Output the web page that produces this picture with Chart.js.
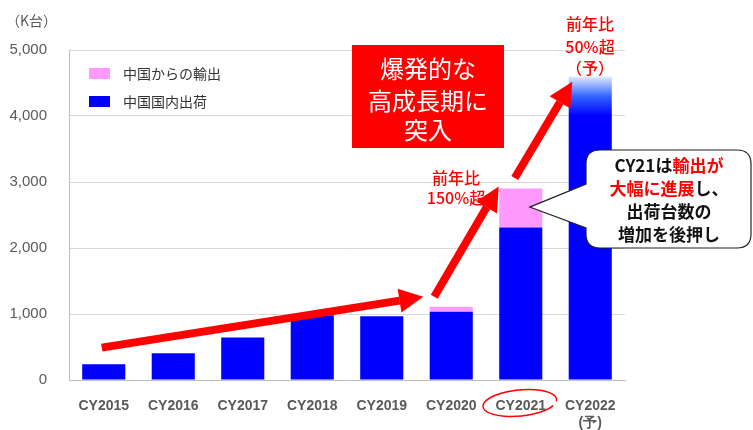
<!DOCTYPE html>
<html>
<head>
<meta charset="utf-8">
<script src="https://cdn.jsdelivr.net/npm/chart.js@4.4.1/dist/chart.umd.min.js"></script>
<style>
  html, body { margin: 0; padding: 0; background: #fff; }
  canvas { display: block; }
</style>
</head>
<body>
<canvas id="chart" width="753" height="430"></canvas>
<script>
// values (K units)
const categories = ['CY2015', 'CY2016', 'CY2017', 'CY2018', 'CY2019', 'CY2020', 'CY2021', ['CY2022', '(予)']];
const domestic = [240, 405, 645, 980, 965, 1035, 2310, 4600];
const exportsCN = [0, 0, 0, 0, 0, 75, 590, 0];
const yMax = 5000;
const yStep = 1000;

const BLUE = '#0000ff';
const PINK = '#ff99ff';
const RED = '#ff0000';
const JP = '"Noto Sans CJK JP", sans-serif';

function arrow(ctx, x1, y1, x2, y2) {
    const ang = Math.atan2(y2 - y1, x2 - x1);
    const headLen = 24, headW = 12;
    const bx = x2 - Math.cos(ang) * headLen, by = y2 - Math.sin(ang) * headLen;
    ctx.save();
    ctx.strokeStyle = RED;
    ctx.fillStyle = RED;
    ctx.lineWidth = 8;
    ctx.beginPath();
    ctx.moveTo(x1, y1);
    ctx.lineTo(bx, by);
    ctx.stroke();
    ctx.beginPath();
    ctx.moveTo(x2, y2);
    ctx.lineTo(bx + Math.sin(ang) * headW, by - Math.cos(ang) * headW);
    ctx.lineTo(bx - Math.sin(ang) * headW, by + Math.cos(ang) * headW);
    ctx.closePath();
    ctx.fill();
    ctx.restore();
}

function lines(ctx, rows, cx, y0, gap) {
    rows.forEach((row, i) => {
        const w = row.reduce((s, p) => s + ctx.measureText(p[0]).width, 0);
        let x = cx - w / 2;
        row.forEach(p => {
            ctx.fillStyle = p[1];
            ctx.fillText(p[0], x, y0 + i * gap);
            x += ctx.measureText(p[0]).width;
        });
    });
}

const overlay = {
    id: 'overlay',
    afterDraw(chart) {
        const ctx = chart.ctx;
        const xs = chart.scales.x, ys = chart.scales.y;
        ctx.save();
        ctx.textBaseline = 'middle';
        ctx.textAlign = 'left';

        // unit
        ctx.font = '14px ' + JP;
        ctx.fillStyle = '#595959';
        ctx.fillText('（K台）', 6, 21);

        // legend
        ctx.fillStyle = PINK;
        ctx.fillRect(89, 68, 21, 11);
        ctx.fillStyle = BLUE;
        ctx.fillRect(89, 96, 21, 11);
        ctx.fillStyle = '#333';
        ctx.font = '14px ' + JP;
        ctx.fillText('中国からの輸出', 123, 74);
        ctx.fillText('中国国内出荷', 123, 102);

        // arrows
        arrow(ctx, xs.getPixelForValue(0) - 2, ys.getPixelForValue(490), xs.getPixelForValue(5) - 28, ys.getPixelForValue(1260));
        arrow(ctx, xs.getPixelForValue(5) - 17, ys.getPixelForValue(1260), xs.getPixelForValue(6) - 22, ys.getPixelForValue(2930));
        arrow(ctx, xs.getPixelForValue(6) - 6, ys.getPixelForValue(3060), xs.getPixelForValue(7) - 18, ys.getPixelForValue(4520));

        // red box
        ctx.fillStyle = RED;
        ctx.fillRect(352, 45, 152, 103);
        ctx.fillStyle = '#fff';
        ctx.font = '24px ' + JP;
        ctx.textAlign = 'center';
        ctx.fillText('爆発的な', 428, 69);
        ctx.fillText('高成長期に', 428, 101);
        ctx.fillText('突入', 428, 130);

        // growth labels
        ctx.fillStyle = RED;
        ctx.font = '500 16px ' + JP;
        ctx.fillText('前年比', 456, 178);
        ctx.fillText('150%超', 456, 198);
        ctx.fillText('前年比', 590, 24);
        ctx.fillText('50%超', 590, 47);
        ctx.fillText('（予）', 590, 68);

        // callout bubble
        const L = 586, T = 150, R = 751, B = 248, r = 14;
        ctx.beginPath();
        ctx.moveTo(L + r, T);
        ctx.lineTo(R - r, T);
        ctx.quadraticCurveTo(R, T, R, T + r);
        ctx.lineTo(R, B - r);
        ctx.quadraticCurveTo(R, B, R - r, B);
        ctx.lineTo(L + r, B);
        ctx.quadraticCurveTo(L, B, L, B - r);
        ctx.lineTo(L, 228);
        ctx.lineTo(xs.getPixelForValue(6) + 9, ys.getPixelForValue(2620));
        ctx.lineTo(L, 184);
        ctx.lineTo(L, T + r);
        ctx.quadraticCurveTo(L, T, L + r, T);
        ctx.closePath();
        ctx.fillStyle = '#fff';
        ctx.fill();
        ctx.strokeStyle = '#222';
        ctx.lineWidth = 1.2;
        ctx.stroke();

        ctx.textAlign = 'left';
        ctx.font = 'bold 17px ' + JP;
        lines(ctx, [
            [['CY21は', '#111'], ['輸出が', RED]],
            [['大幅に進展', RED], ['し、', '#111']],
            [['出荷台数の', '#111']],
            [['増加を後押し', '#111']]
        ], 669, 166, 23);

        // circle round CY2021
        ctx.strokeStyle = RED;
        ctx.lineWidth = 1.5;
        ctx.beginPath();
        ctx.ellipse(xs.getPixelForValue(6) - 1, 403, 37, 13, -0.1, 0.15 * Math.PI, 2.05 * Math.PI);
        ctx.stroke();
        ctx.restore();
    }
};

function barColor(c) {
    if (c.dataIndex !== 7) return BLUE;
    const area = c.chart.chartArea;
    if (!area) return BLUE;
    const ys = c.chart.scales.y;
    const top = ys.getPixelForValue(domestic[7]);
    const solid = ys.getPixelForValue(4000);
    const g = c.chart.ctx.createLinearGradient(0, top, 0, solid);
    g.addColorStop(0, '#e4ecff');
    g.addColorStop(0.5, '#3366ff');
    g.addColorStop(1, BLUE);
    return g;
}

new Chart(document.getElementById('chart'), {
    type: 'bar',
    data: {
        labels: categories,
        datasets: [{
            label: '中国国内出荷',
            data: domestic,
            backgroundColor: barColor,
            borderWidth: 0
        }, {
            label: '中国からの輸出',
            data: exportsCN,
            backgroundColor: PINK,
            borderWidth: 0
        }]
    },
    options: {
        responsive: false,
        animation: false,
        devicePixelRatio: 1,
        barPercentage: 0.62,
        categoryPercentage: 1,
        layout: { padding: { top: 50, right: 128, left: 0, bottom: 0 } },
        plugins: {
            legend: { display: false },
            tooltip: { enabled: false }
        },
        scales: {
            x: {
                stacked: true,
                grid: { display: false },
                border: { color: '#bfbfbf' },
                ticks: {
                    color: '#595959',
                    font: { family: 'Liberation Sans', size: 14, weight: 'bold', lineHeight: 1.25 },
                    padding: 9,
                    maxRotation: 0
                },
                afterFit: s => { s.height = 50; }
            },
            y: {
                stacked: true,
                min: 0,
                max: yMax,
                grid: { color: '#d9d9d9', drawTicks: false },
                border: { color: '#bfbfbf' },
                ticks: {
                    stepSize: yStep,
                    color: '#595959',
                    padding: 22,
                    font: { family: 'Liberation Sans', size: 15 },
                    callback: v => v.toLocaleString('en-US')
                },
                afterFit: s => { s.width = 69; }
            }
        }
    },
    plugins: [overlay]
});
</script>
</body>
</html>
